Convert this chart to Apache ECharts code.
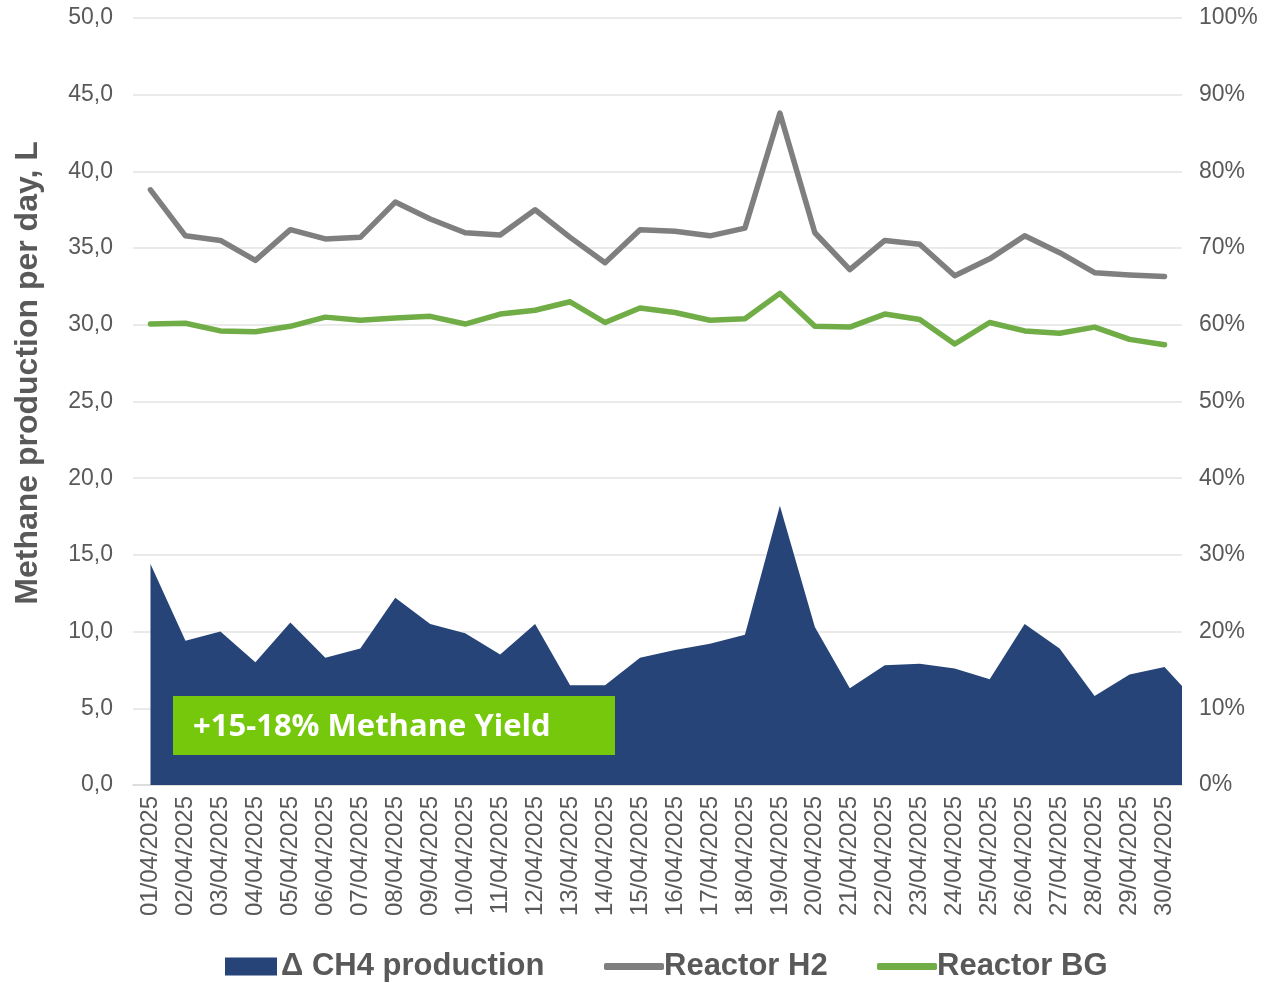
<!DOCTYPE html>
<html>
<head>
<meta charset="utf-8">
<script src="https://cdn.jsdelivr.net/npm/echarts@6/dist/echarts.min.js"></script>
<style>
html,body{margin:0;padding:0;background:#fff;}
#chart{width:1265px;height:983px;}
</style>
</head>
<body>
<div id="chart"></div>
<script>
var dates = ['01/04/2025','02/04/2025','03/04/2025','04/04/2025','05/04/2025','06/04/2025','07/04/2025','08/04/2025','09/04/2025','10/04/2025',
  '11/04/2025','12/04/2025','13/04/2025','14/04/2025','15/04/2025','16/04/2025','17/04/2025','18/04/2025','19/04/2025','20/04/2025',
  '21/04/2025','22/04/2025','23/04/2025','24/04/2025','25/04/2025','26/04/2025','27/04/2025','28/04/2025','29/04/2025','30/04/2025'];
var deltaCH4 = [14.4,9.4,10.0,8.0,10.6,8.3,8.9,12.2,10.5,9.9,
  8.5,10.5,6.5,6.5,8.3,8.8,9.2,9.8,18.2,10.3,
  6.3,7.8,7.9,7.6,6.9,10.5,8.9,5.8,7.2,7.7];
var deltaCH4Edge = 6.45;
var reactorH2 = [38.8,35.8,35.5,34.2,36.2,35.6,35.7,38.0,36.9,36.0,
  35.85,37.5,35.7,34.05,36.2,36.1,35.8,36.3,43.8,36.0,
  33.6,35.5,35.25,33.2,34.3,35.8,34.7,33.4,33.25,33.15];
var reactorBG = [30.05,30.1,29.6,29.55,29.9,30.5,30.3,30.45,30.55,30.05,
  30.7,30.95,31.5,30.15,31.1,30.8,30.3,30.4,32.05,29.9,
  29.85,30.7,30.35,28.75,30.15,29.6,29.45,29.85,29.05,28.7];
var leftTicks = {min:0, max:50, interval:5};
var rightTicks = {min:0, max:1, interval:0.1};
var seriesNames = ['\u0394 CH4 production','Reactor H2','Reactor BG'];
var yTitle = 'Methane production per day, L';
var annotationText = '+15-18% Methane Yield';

var areaData = deltaCH4.map(function(v,i){return [i,v];});
areaData.push([dates.length-0.5, deltaCH4Edge]);

var txt = '#595959';
var ff = 'Liberation Sans, Arial, sans-serif';
var legendText = {color:txt, fontSize:31, fontWeight:'bold', fontFamily:ff};
var chart = echarts.init(document.getElementById('chart'), null, {renderer:'canvas'});
chart.setOption({
  backgroundColor:'#ffffff',
  animation:false,
  grid:{left:133, right:83, top:18, bottom:198, containLabel:false},
  legend:[
    {data:[seriesNames[0]], left:225, top:951, padding:0, icon:'rect', itemWidth:52, itemHeight:18, itemGap:6,
     textStyle:Object.assign({padding:[0,0,0,-1]}, legendText)},
    {data:[seriesNames[1]], left:604, top:951, padding:0, icon:'roundRect', itemWidth:60, itemHeight:7,
     textStyle:Object.assign({padding:[0,0,0,-5]}, legendText)},
    {data:[seriesNames[2]], left:877, top:951, padding:0, icon:'roundRect', itemWidth:60, itemHeight:7,
     textStyle:Object.assign({padding:[0,0,0,-5]}, legendText)}
  ],
  xAxis:[
    {type:'category', data:dates, boundaryGap:true,
     axisLine:{show:true, lineStyle:{color:'#d9d9d9', width:1.5}},
     axisTick:{show:false},
     axisLabel:{rotate:90, interval:0, color:txt, fontSize:24, margin:11, fontFamily:ff},
     splitLine:{show:false}},
    {type:'value', min:-0.5, max:dates.length-0.5, show:false, splitLine:{show:false}}
  ],
  yAxis:[
    {type:'value', min:leftTicks.min, max:leftTicks.max, interval:leftTicks.interval,
     axisLine:{show:false}, axisTick:{show:false},
     axisLabel:{color:txt, fontSize:23, margin:20, fontFamily:ff,
       formatter:function(v){return v.toFixed(1).replace('.',',');}},
     splitLine:{show:true, lineStyle:{color:'#e3e3e3', width:1.5}}},
    {type:'value', min:rightTicks.min, max:rightTicks.max, interval:rightTicks.interval, position:'right',
     axisLine:{show:false}, axisTick:{show:false},
     axisLabel:{color:txt, fontSize:23, margin:17, fontFamily:ff,
       formatter:function(v){return Math.round(v*100)+'%';}},
     splitLine:{show:false}}
  ],
  series:[
    {name:seriesNames[0], type:'line', xAxisIndex:1, yAxisIndex:0, data:areaData,
     symbol:'none', lineStyle:{width:0, color:'#264478'}, itemStyle:{color:'#264478'},
     areaStyle:{color:'#264478', opacity:1}, z:1},
    {name:seriesNames[1], type:'line', xAxisIndex:0, yAxisIndex:0, data:reactorH2,
     symbol:'none', lineStyle:{width:5.5, color:'#7f7f7f', cap:'round', join:'round'}, itemStyle:{color:'#7f7f7f'}, z:3},
    {name:seriesNames[2], type:'line', xAxisIndex:0, yAxisIndex:0, data:reactorBG,
     symbol:'none', lineStyle:{width:5.5, color:'#70ad47', cap:'round', join:'round'}, itemStyle:{color:'#70ad47'}, z:3}
  ],
  graphic:[
    {type:'text', x:28, y:373, rotation:Math.PI/2,
     style:{text:yTitle, fill:txt, font:'bold 32px Liberation Sans, Arial, sans-serif', align:'center', verticalAlign:'middle'}, z:5},
    {type:'rect', left:173, top:696, shape:{width:442, height:59}, style:{fill:'#75c80c'}, z:10},
    {type:'text', x:193, y:727, style:{text:annotationText, fill:'#ffffff', font:'bold 31px "Open Sans", sans-serif', verticalAlign:'middle'}, z:11}
  ]
});
</script>
</body>
</html>
